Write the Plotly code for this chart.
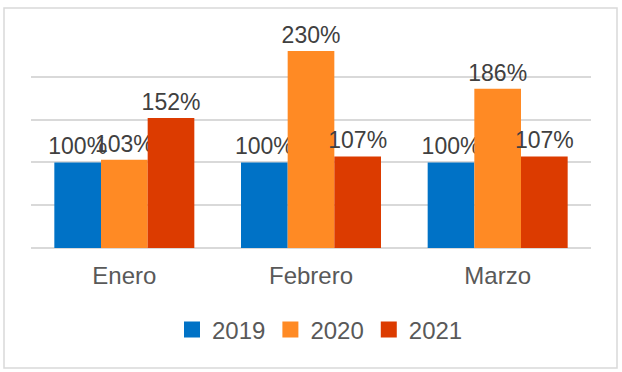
import plotly.graph_objects as go

categories = ["Enero", "Febrero", "Marzo"]
series_names = ["2019", "2020", "2021"]
values_2019 = [100, 100, 100]
values_2020 = [103, 230, 186]
values_2021 = [152, 107, 107]
colors = ["#0072C6", "#FF8A24", "#DC3B00"]

FONT = "Liberation Sans, Arial, sans-serif"
fig = go.Figure()
for name, vals, col in zip(series_names, [values_2019, values_2020, values_2021], colors):
    fig.add_trace(go.Bar(
        x=categories, y=vals, name=name, showlegend=False,
        marker=dict(color=col, line=dict(width=0)),
        text=[f"{v}%" for v in vals], textposition="outside",
        constraintext="none", cliponaxis=False,
        textfont=dict(family=FONT, size=23, color="#404040"),
    ))
for name, col in zip(series_names, colors):
    fig.add_trace(go.Scatter(
        x=[None], y=[None], mode="markers", name=name,
        marker=dict(symbol="square", size=18, color=col),
    ))

W, H = 622, 372
L, R, T, B = 31, 31, 34, 124
pw, ph = W - L - R, H - T - B
def px(x): return (x - L) / pw
def py(y): return (H - B - y) / ph

fig.update_layout(
    width=W, height=H, autosize=False,
    margin=dict(l=L, r=R, t=T, b=B),
    paper_bgcolor="white", plot_bgcolor="white",
    barmode="group", bargap=0.25, bargroupgap=0,
    font=dict(family=FONT, color="#595959"),
    xaxis=dict(showgrid=False, showline=False, ticks="outside", ticklen=6, tickcolor="rgba(0,0,0,0)",
               tickfont=dict(size=24, color="#595959")),
    yaxis=dict(range=[0, 250], dtick=50, showgrid=True, gridcolor="#D9D9D9", gridwidth=2,
               showticklabels=False, zeroline=True, zerolinecolor="#D9D9D9", zerolinewidth=2),
    showlegend=True,
    legend=dict(orientation="h", x=px(320), xanchor="center", y=py(330), yanchor="middle",
                font=dict(size=24, color="#595959"), traceorder="normal", itemwidth=30),
    shapes=[dict(type="rect", xref="paper", yref="paper", x0=px(4), x1=px(617), y0=py(8), y1=py(368),
                 line=dict(color="#D9D9D9", width=1.5), layer="below")],
)
fig.write_html("out.html", config={"displayModeBar": False},
               post_script="document.body.style.margin='0';document.body.style.overflow='hidden';")
